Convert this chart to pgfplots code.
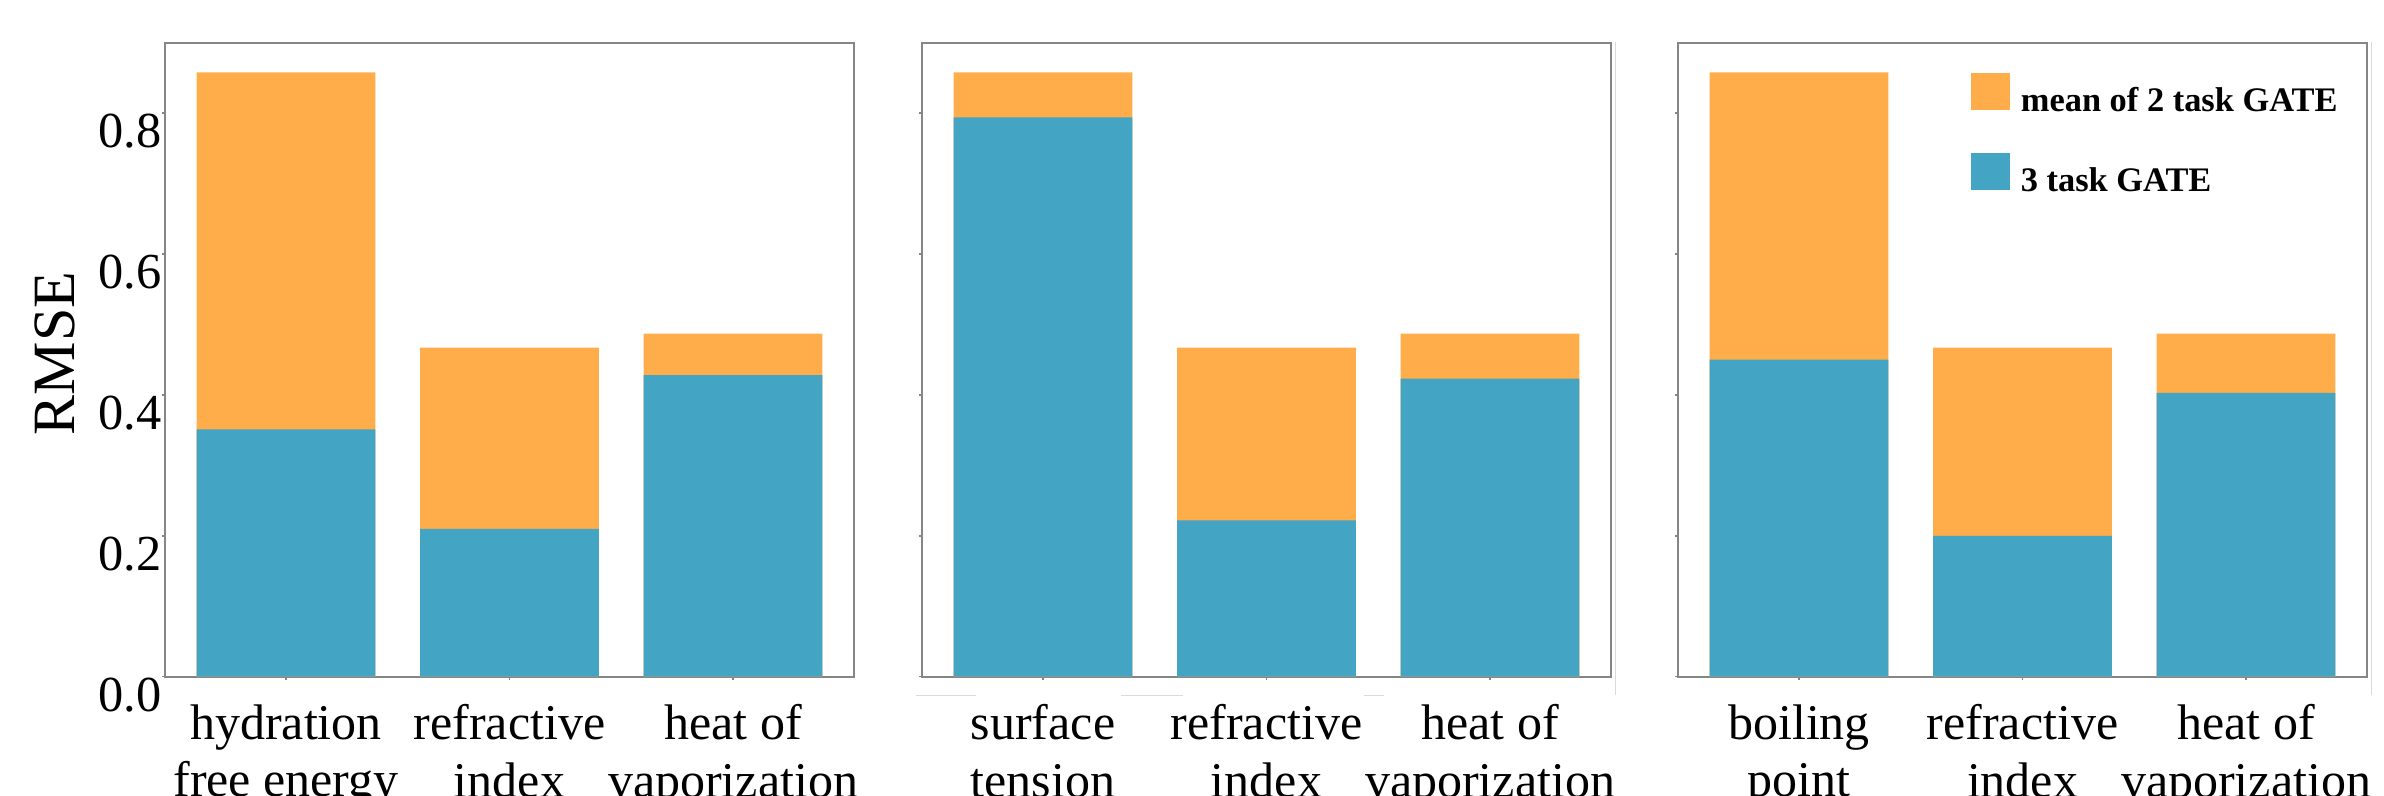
\documentclass[border=0pt]{standalone}
\usepackage{fontspec}
\setmainfont{Liberation Serif}
\usepackage{pgfplots}
\pgfplotsset{compat=1.18}
\definecolor{orng}{HTML}{FFAC4A}
\definecolor{blu}{HTML}{43A4C4}
\definecolor{framec}{HTML}{868686}
\definecolor{faint}{HTML}{DADADA}

\pgfplotsset{
 panel/.style={
  scale only axis, width=172.1pt, height=158.5pt,
  xmin=-0.54, xmax=2.54, ymin=0, ymax=0.9,
  xtick={0,1,2}, ytick={0,0.2,0.4,0.6,0.8},
  xtick pos=bottom, ytick pos=left, tick align=outside,
  major tick length=0.8pt,
  tick style={framec, line width=0.35pt},
  axis line style={framec, line width=0.45pt},
  ybar, bar width=0.8, bar shift=0pt,
  xticklabel style={font=\fontsize{12.5}{14.4}\selectfont, align=center, anchor=north, inner sep=0pt, yshift=-6pt},
  yticklabel style={font=\fontsize{12.6}{14}\selectfont, anchor=north east, inner sep=0pt},
  /pgf/number format/assume math mode=true,
  /pgf/number format/fixed, /pgf/number format/fixed zerofill, /pgf/number format/precision=1,
 }
}

\begin{document}
\begin{tikzpicture}
% panel 1
\begin{axis}[panel, at={(41.33pt,29.58pt)}, anchor=south west,
  xticklabels={hydration\\free energy, refractive\\index, heat of\\vaporization},
  ylabel={RMSE},
  y label style={at={(axis description cs:-0.16,0.51)}, anchor=center, font=\fontsize{15}{18}\selectfont}]
\addplot[fill=orng, draw=none] coordinates {(0,0.858) (1,0.467) (2,0.487)};
\addplot[fill=blu, draw=none] coordinates {(0,0.351) (1,0.210) (2,0.428)};
\end{axis}
% panel 2
\begin{axis}[panel, at={(230.58pt,29.58pt)}, anchor=south west,
  xticklabels={surface\\tension, refractive\\index, heat of\\vaporization},
  yticklabels={}]
\addplot[fill=orng, draw=none] coordinates {(0,0.858) (1,0.467) (2,0.487)};
\addplot[fill=blu, draw=none] coordinates {(0,0.794) (1,0.222) (2,0.423)};
\end{axis}
% panel 3
\begin{axis}[panel, at={(419.58pt,29.58pt)}, anchor=south west,
  xticklabels={boiling\\point, refractive\\index, heat of\\vaporization},
  yticklabels={},
  legend image code/.code={\fill[#1] (0pt,-1.85pt) rectangle (9.75pt,7.35pt);},
  legend style={at={(axis description cs:0.425,0.9516)}, anchor=north west,
    draw=none, fill=none, inner sep=0pt, outer sep=0pt,
    nodes={inner sep=0pt, outer sep=0pt},
    column sep=2.75pt, row sep=8.7pt,
    font=\bfseries\fontsize{8.6}{10}\selectfont},
  legend cell align=left]
\addplot[fill=orng, draw=none] coordinates {(0,0.858) (1,0.467) (2,0.487)};
\addlegendentry{mean of 2 task GATE}
\addplot[fill=blu, draw=none] coordinates {(0,0.450) (1,0.200) (2,0.403)};
\addlegendentry{3 task GATE}
\end{axis}
% faint border remnants
\draw[faint, line width=0.25pt] (403.75pt,188.25pt) -- (403.75pt,25pt);
\draw[faint, line width=0.25pt] (592.75pt,188.25pt) -- (592.75pt,25pt);
\draw[faint, line width=0.25pt] (229pt,25pt) -- (243.9pt,25pt);
\draw[faint, line width=0.25pt] (280.3pt,25pt) -- (295.7pt,25pt);
\draw[faint, line width=0.25pt] (340.9pt,25pt) -- (346pt,25pt);
\pgfresetboundingbox
\path[use as bounding box] (0,0) rectangle (596pt,198.75pt);
\end{tikzpicture}
\end{document}
